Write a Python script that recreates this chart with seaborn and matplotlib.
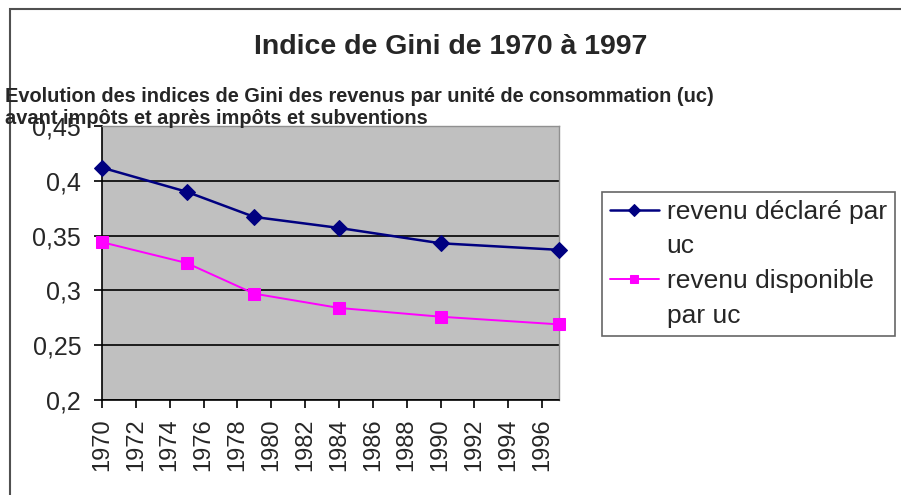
import matplotlib
matplotlib.use("Agg")
import matplotlib.pyplot as plt
import seaborn as sns
from matplotlib.lines import Line2D
from matplotlib.patches import Rectangle

# data
annees = [1970, 1975, 1979, 1984, 1990, 1997]
revenu_declare = [0.412, 0.390, 0.367, 0.357, 0.343, 0.337]
revenu_disponible = [0.344, 0.325, 0.297, 0.284, 0.276, 0.269]
series = ["revenu déclaré par\nuc", "revenu disponible\npar uc"]
y_ticks = [0.2, 0.25, 0.3, 0.35, 0.4, 0.45]
y_labels = ["0,2", "0,25", "0,3", "0,35", "0,4", "0,45"]
x_ticks = list(range(1970, 1997, 2))

titre = "Indice de Gini de 1970 à 1997"
sous_titre = ("Evolution des indices de Gini des revenus par unité de consommation (uc)\n"
              "avant impôts et après impôts et subventions")

sns.set_style("white")
plt.rcParams['font.family'] = ['Liberation Sans', 'DejaVu Sans']

fig = plt.figure(figsize=(9.01, 4.95), dpi=100)
ax = fig.add_axes([102/901, 1 - 400/495, 457/901, 274/495])
ax.set_facecolor("#c0c0c0")

sns.lineplot(x=annees, y=revenu_declare, ax=ax, color="#000080", marker="D",
             markersize=8, markeredgecolor="#000080", linewidth=1.8, label=series[0],
             clip_on=False, zorder=5)
sns.lineplot(x=annees, y=revenu_disponible, ax=ax, color="#ff00ff", marker="s",
             markersize=8, markeredgecolor="#ff00ff", linewidth=1.4, label=series[1],
             clip_on=False, zorder=5)

ax.set_xlim(1970, 1997)
ax.set_ylim(0.2, 0.45)
ax.set_yticks(y_ticks)
ax.set_yticklabels(y_labels, fontsize=18)
ax.set_xticks(x_ticks)
ax.set_xticklabels([str(a) for a in x_ticks], rotation=90, fontsize=17)
ax.tick_params(axis="both", direction="out", length=6, width=1.2, color="black",
               bottom=True, left=True)
ax.tick_params(axis="y", pad=9)
ax.tick_params(axis="x", pad=7)
ax.yaxis.grid(True, color="black", linewidth=1.2)
ax.xaxis.grid(False)
for s in ["left", "bottom"]:
    ax.spines[s].set_color("black")
    ax.spines[s].set_linewidth(1.2)
for s in ["top", "right"]:
    ax.spines[s].set_color("#909090")
    ax.spines[s].set_linewidth(1)

# legend: one row per text line, handle only on the first line of each entry
handles, labels = ax.get_legend_handles_labels()
ax.get_legend().remove()
leg_h, leg_l = [], []
for h, lab in zip(handles, labels):
    lignes = lab.split("\n")
    leg_h.append(h)
    leg_l.append(lignes[0])
    for l in lignes[1:]:
        leg_h.append(Line2D([], [], linestyle="none"))
        leg_l.append(l)

leg = ax.legend(leg_h, leg_l, loc="upper left", bbox_to_anchor=(602/901, 1 - 192/495),
                bbox_transform=fig.transFigure, fontsize=19, frameon=True, fancybox=False,
                handlelength=1.85, borderpad=0.3, labelspacing=0.4, handletextpad=0.3,
                borderaxespad=0, markerscale=0.75)
leg.get_frame().set_edgecolor("#404040")
leg.get_frame().set_linewidth(1.2)
leg.get_frame().set_facecolor("white")

fig.text(0.5, 1 - 47/495, titre, ha="center", va="center", fontsize=20.5, fontweight="bold")
fig.text(5/901, 1 - 87/495, sous_titre, ha="left", va="top", fontsize=14.4,
         fontweight="bold", linespacing=1.2)

fig.patches.append(Rectangle((10/901, -0.1), 1.2, 1.1 - 9/495, transform=fig.transFigure,
                             fill=False, edgecolor="#505050", linewidth=1.5))

fig.savefig("out.png", dpi=100)
